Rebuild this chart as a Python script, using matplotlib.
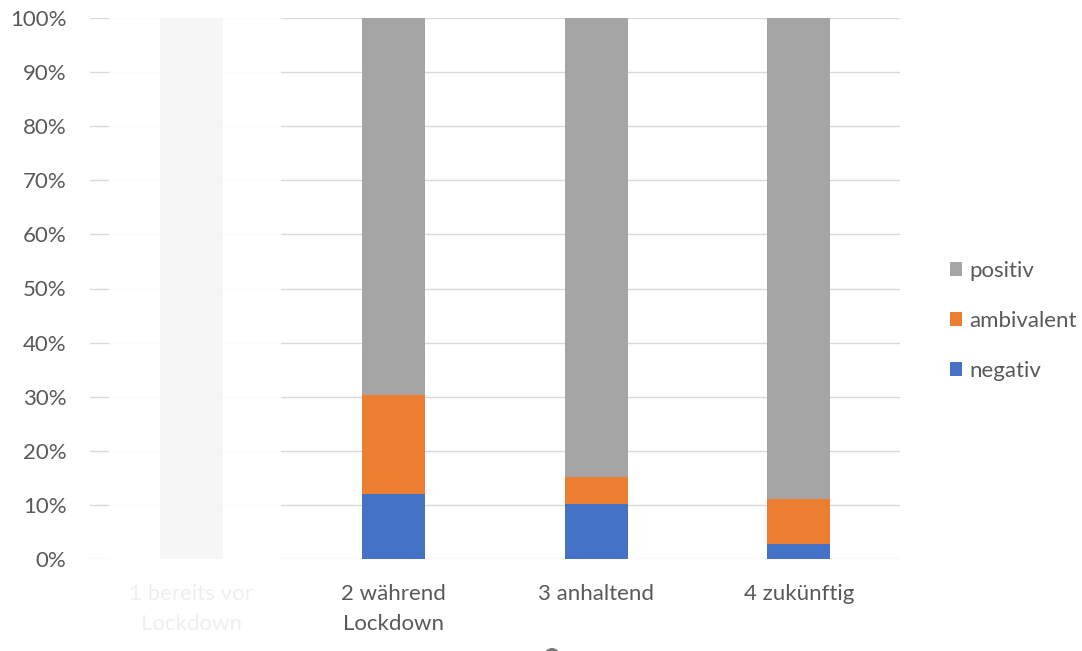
import matplotlib.pyplot as plt
from matplotlib.patches import Rectangle, Ellipse

plt.rcParams['font.family'] = ['Lato', 'DejaVu Sans']

categories = ['1 bereits vor\nLockdown', '2 während\nLockdown', '3 anhaltend', '4 zukünftig']
negativ = [0.0, 12.1, 10.2, 2.8]
ambivalent = [0.0, 18.2, 5.0, 8.2]
positiv = [100.0, 69.7, 84.8, 89.0]

c_neg = '#4472C4'
c_amb = '#ED7D31'
c_pos = '#A5A5A5'
txt = '#595959'

fig = plt.figure(figsize=(10.82, 6.51), dpi=100)
ax = fig.add_axes([90 / 1082, 1 - 559 / 651, 810 / 1082, 541 / 651])

x = range(len(categories))
w = 0.31
b1 = ax.bar(x, negativ, w, color=c_neg, label='negativ', zorder=3)
bottom2 = [n for n in negativ]
b2 = ax.bar(x, ambivalent, w, bottom=bottom2, color=c_amb, label='ambivalent', zorder=3)
bottom3 = [n + a for n, a in zip(negativ, ambivalent)]
b3 = ax.bar(x, positiv, w, bottom=bottom3, color=c_pos, label='positiv', zorder=3)

ax.set_xlim(-0.5, 3.5)
ax.set_ylim(0, 100)
ax.set_yticks(range(0, 101, 10))
ax.set_yticklabels([f'{v}%' for v in range(0, 101, 10)])
ax.set_xticks(list(x))
ax.set_xticklabels(categories, linespacing=1.65)
ax.tick_params(axis='both', length=0, labelsize=16, colors=txt)
ax.tick_params(axis='y', pad=17)
ax.tick_params(axis='x', pad=18)
ax.grid(axis='y', color='#D9D9D9', linewidth=1.0, zorder=0)
for s in ax.spines.values():
    s.set_visible(False)

fig.legend([b3, b2, b1], ['positiv', 'ambivalent', 'negativ'],
           loc='center left', bbox_to_anchor=(930 / 1082, 1 - 321 / 651),
           frameon=False, fontsize=16, labelcolor=txt,
           handlelength=0.55, handleheight=0.55, handletextpad=0.3,
           labelspacing=1.35)

# faded first category
fig.patches.append(Rectangle((109 / 1082, 0), 172 / 1082, 1,
                             transform=fig.transFigure, facecolor='white',
                             alpha=0.91, edgecolor='none', zorder=10))
fig.patches.append(Ellipse((552 / 1082, 1 - 656 / 651), 16 / 1082, 16 / 651,
                           transform=fig.transFigure, facecolor='#7a7a7a',
                           edgecolor='none', zorder=10))

fig.savefig('out.png', dpi=100)
